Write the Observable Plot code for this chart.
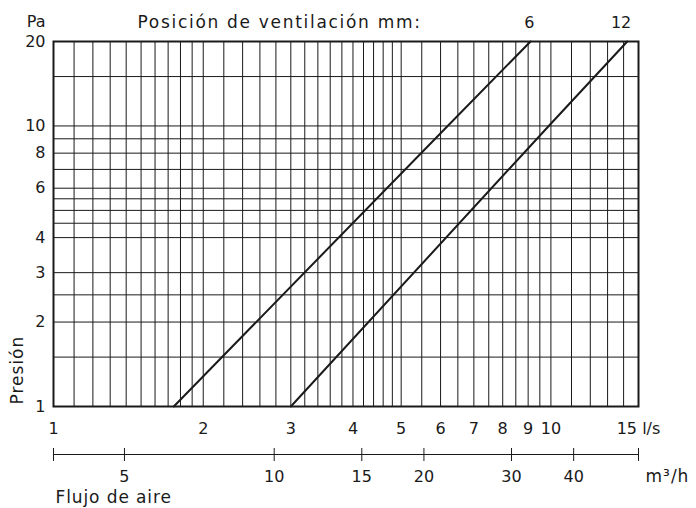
<!DOCTYPE html>
<html>
<head>
<meta charset="utf-8">
<script src="https://cdn.jsdelivr.net/npm/d3@7"></script>
<script src="https://cdn.jsdelivr.net/npm/@observablehq/plot@0.6"></script>
<style>
  html, body { margin: 0; padding: 0; background: #fff; }
  #chart svg { display: block; }
</style>
</head>
<body>
<div id="chart"></div>
<script>
// Flow (l/s) grid lines and labels
const xGrid = [1.1, 1.2, 1.3, 1.4, 1.5, 1.6, 1.7, 1.8, 1.9, 2, 2.2, 2.4, 2.6, 2.8, 3,
  3.2, 3.4, 3.6, 3.8, 4, 4.2, 4.4, 4.6, 4.8, 5, 5.5, 6, 6.5, 7, 7.5, 8, 8.5, 9, 9.5, 10,
  11, 12, 13, 14];
const xTicks = [1, 2, 3, 4, 5, 6, 7, 8, 9, 10, 15];
// Pressure (Pa) grid lines and labels
const yGrid = [1.5, 2, 2.5, 3, 4, 4.5, 5, 5.5, 6, 7, 8, 9, 10, 15];
const yTicks = [1, 2, 3, 4, 6, 8, 10, 20];
// Secondary flow axis (m3/h)
const m3Ticks = [5, 10, 15, 20, 30, 40];
const m3Ends = [3.6, 54];
const lsPerM3h = 1 / 3.6;
// Ventilation position curves (flow l/s, pressure Pa)
const pos6Flow = [1.745, 6.2, 9.1];
const pos6Pres = [1, 10, 20];
const pos12Flow = [3.0, 9.9, 14.24];
const pos12Pres = [1, 10, 20];

const series = [
  {label: "6", flow: pos6Flow, pres: pos6Pres},
  {label: "12", flow: pos12Flow, pres: pos12Pres}
];
const curveData = series.flatMap(s => s.flow.map((f, i) => ({pos: s.label, q: f, p: s.pres[i]})));
const endData = series.map(s => ({pos: s.label, q: s.flow[s.flow.length - 1], p: s.pres[s.pres.length - 1]}));

const font = "DejaVu Sans";
const ink = "#1a1a1a";
const fs = 16;
const T = {fontSize: fs, fill: ink, lineAnchor: "middle"};
const W = {fontSize: 17, fill: ink, lineAnchor: "middle"};

const chart = Plot.plot({
  width: 696,
  height: 508,
  marginLeft: 53,
  marginRight: 58,
  marginTop: 41,
  marginBottom: 102,
  style: {fontFamily: font, fontSize: fs + "px", color: ink, background: "#fff"},
  x: {type: "log", domain: [1, 15], axis: null},
  y: {type: "log", domain: [1, 20], axis: null},
  marks: [
    Plot.ruleX(xGrid, {x: d => d, y1: 1, y2: 20, stroke: ink, strokeWidth: 1}),
    Plot.ruleY(yGrid, {y: d => d, x1: 1, x2: 15, stroke: ink, strokeWidth: 1}),
    Plot.frame({stroke: ink, strokeWidth: 2}),
    Plot.line(curveData, {x: "q", y: "p", z: "pos", stroke: ink, strokeWidth: 2}),
    // series labels at the top
    Plot.text(endData, {x: "q", y: "p", text: "pos", textAnchor: "end", dx: 4, dy: -19, ...T}),
    // y tick labels
    Plot.text(yTicks, {y: d => d, frameAnchor: "left", dx: -8, textAnchor: "end", text: d => String(d), ...T}),
    // x tick labels (l/s)
    Plot.text(xTicks, {x: d => d, frameAnchor: "bottom", dy: 22, text: d => d === 15 ? "15 l/s" : String(d), ...T}),
    // secondary axis m3/h
    Plot.ruleY([1], {y: d => d, x1: 1, x2: 15, dy: 48, stroke: ink, strokeWidth: 1}),
    Plot.ruleX(m3Ticks.concat(m3Ends), {x: d => d * lsPerM3h, y1: 1, y2: 1, insetTop: -6, insetBottom: -7, dy: 48, stroke: ink, strokeWidth: 1}),
    Plot.text(m3Ticks, {x: d => d * lsPerM3h, frameAnchor: "bottom", dy: 70, text: d => String(d), ...T}),
    Plot.text(["m³/h"], {frameAnchor: "bottom-right", dx: 7, dy: 70, textAnchor: "start", ...W}),
    Plot.text(["Flujo de aire"], {frameAnchor: "bottom-left", dx: 2, dy: 91, textAnchor: "start", ...W}),
    // titles
    Plot.text(["Pa"], {frameAnchor: "top-left", dx: -8, dy: -20, textAnchor: "end", ...T}),
    Plot.text(["Posición de ventilación mm:"], {frameAnchor: "top-left", dx: 84, dy: -19, textAnchor: "start", ...W}),
    Plot.text(["Presión"], {frameAnchor: "bottom-left", dx: -36, dy: -2, rotate: -90, textAnchor: "start", ...W})
  ]
});
// widen the word labels to match the reference's broader typeface
const spacing = {"Posición de ventilación mm:": "1.7px", "Flujo de aire": "0.9px", "Presión": "1px", "m³/h": "1px"};
d3.select(chart).selectAll("text").each(function() {
  const s = spacing[this.textContent];
  if (s) this.setAttribute("letter-spacing", s);
});
document.getElementById("chart").append(chart);
</script>
</body>
</html>
